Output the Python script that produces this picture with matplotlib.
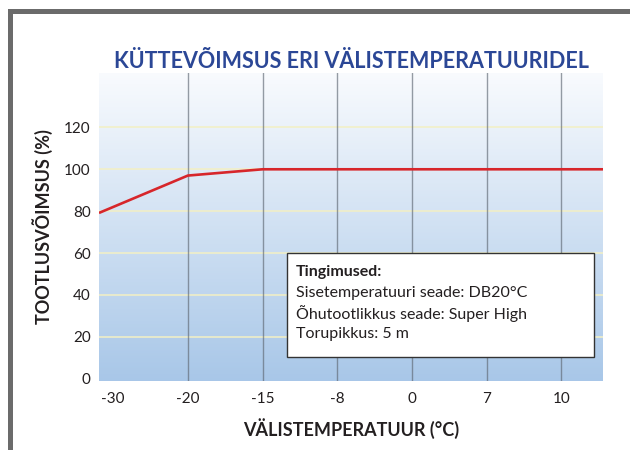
import numpy as np
import matplotlib
matplotlib.use("Agg")
import matplotlib.pyplot as plt
from matplotlib.patches import Rectangle

# ── Data ─────────────────────────────────────────────────────────────────────
temps = ["-30", "-20", "-15", "-8", "0", "7", "10"]
capacity = [82, 97, 100, 100, 100, 100, 100]
y_ticks = [0, 20, 40, 60, 80, 100, 120]

title = "KÜTTEVÕIMSUS ERI VÄLISTEMPERATUURIDEL"
xlabel = "VÄLISTEMPERATUUR (°C)"
ylabel = "TOOTLUSVÕIMSUS (%)"
box_head = "Tingimused:"
box_lines = ["Sisetemperatuuri seade: DB20°C",
             "Õhutootlikkus seade: Super High",
             "Torupikkus: 5 m"]

# ── Style ────────────────────────────────────────────────────────────────────
plt.rcParams["font.family"] = ["Lato", "DejaVu Sans"]
TXT = "#231f20"
BLUE = "#2b4796"
RED = "#d7262b"

fig = plt.figure(figsize=(6.3, 4.5), dpi=100)
ax = fig.add_axes([99 / 630, 1 - 380.7 / 450, 504 / 630, 307.7 / 450])

x = np.arange(len(temps))
xmin, xmax = -0.19, 6.56
ymin, ymax = -1, 146
ax.set_xlim(xmin, xmax)
ax.set_ylim(ymin, ymax)

# gradient background
grad = np.linspace(0, 1, 256)[:, None]
top = np.array([0.975, 0.983, 0.995])
bot = np.array([0.66, 0.78, 0.91])
img = top + (bot - top) * grad[..., None]
ax.imshow(img, extent=[xmin, xmax, ymin, ymax], aspect="auto", origin="upper", zorder=0)

# grid
for yv in y_ticks[1:]:
    ax.axhline(yv, color="#f3f0c4", lw=1.1, zorder=1)
for xv in x[1:]:
    ax.axvline(xv, color="#5f6873", lw=1.0, alpha=0.65, zorder=1)

# red curve, extended to the plot edges
slope = (capacity[1] - capacity[0]) / (x[1] - x[0])
xs = np.concatenate([[xmin], x, [xmax]])
ys = np.concatenate([[capacity[0] + slope * (xmin - x[0])], capacity, [capacity[-1]]])
ax.plot(xs, ys, color=RED, lw=1.9, zorder=3, solid_capstyle="butt")

ax.set_xticks(x)
ax.set_xticklabels(temps)
ax.set_yticks(y_ticks)
ax.tick_params(length=0, labelsize=11, labelcolor=TXT)
ax.tick_params(axis="x", pad=8)
ax.tick_params(axis="y", pad=6)
for s in ax.spines.values():
    s.set_visible(False)

ax.set_xlabel(xlabel, fontsize=13, fontweight="bold", color=TXT, labelpad=9)
ax.set_ylabel(ylabel, fontsize=13, fontweight="bold", color=TXT, labelpad=8)

# conditions box
ax.add_patch(Rectangle((0.373, 0.077), 0.609, 0.338, transform=ax.transAxes,
                       facecolor="white", edgecolor="#333333", lw=1.0, zorder=4))
ax.text(0.391, 0.353, box_head, transform=ax.transAxes, fontsize=11.5,
        fontweight="bold", color=TXT, va="center", zorder=5)
for i, line in enumerate(box_lines):
    ax.text(0.391, 0.285 - i * 0.066, line, transform=ax.transAxes, fontsize=11.5,
            color=TXT, va="center", zorder=5)

# title
fig.text(351 / 630, 1 - 61 / 450, title, ha="center", va="center", fontsize=15.5,
         fontweight="bold", color=BLUE)

# gray frame on left and top
fig.add_artist(Rectangle((8 / 630, 0), 5 / 630, (450 - 9) / 450,
                         transform=fig.transFigure, facecolor="#6b6b6b", edgecolor="none"))
fig.add_artist(Rectangle((8 / 630, 1 - 14 / 450), 622 / 630, 5 / 450,
                         transform=fig.transFigure, facecolor="#6b6b6b", edgecolor="none"))

fig.savefig("out.png", dpi=100)
